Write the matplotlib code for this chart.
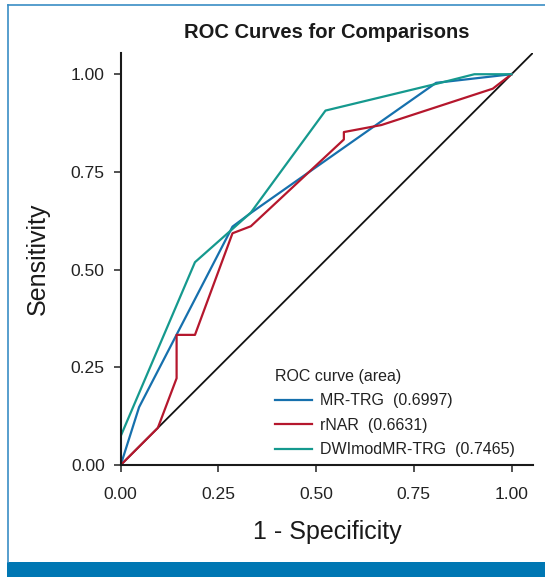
import matplotlib
matplotlib.use("Agg")
import matplotlib.pyplot as plt
from matplotlib.lines import Line2D
from matplotlib.patches import Rectangle

# ROC points (1 - specificity, sensitivity)
mr_trg_fpr = [0.0, 0.047, 0.286, 0.333, 0.807, 1.0]
mr_trg_tpr = [0.0, 0.148, 0.610, 0.645, 0.978, 1.0]

rnar_fpr = [0.0, 0.095, 0.143, 0.143, 0.190, 0.286, 0.333, 0.571, 0.571, 0.667, 0.952, 1.0]
rnar_tpr = [0.0, 0.095, 0.222, 0.333, 0.333, 0.593, 0.611, 0.833, 0.852, 0.870, 0.963, 1.0]

dwi_fpr = [0.0, 0.0, 0.190, 0.286, 0.333, 0.524, 0.810, 0.905, 1.0]
dwi_tpr = [0.0, 0.074, 0.519, 0.604, 0.646, 0.907, 0.976, 1.0, 1.0]

labels = ["MR-TRG  (0.6997)", "rNAR  (0.6631)", "DWImodMR-TRG  (0.7465)"]
ticks = [0.0, 0.25, 0.5, 0.75, 1.0]
tick_labels = ["0.00", "0.25", "0.50", "0.75", "1.00"]

c_blue = "#1670ad"
c_red = "#b5172d"
c_teal = "#15998e"

plt.rcParams["font.family"] = ["Liberation Sans", "DejaVu Sans"]

fig = plt.figure(figsize=(5.45, 5.77), dpi=100)
ax = fig.add_axes([0.2215, 0.1941, 0.7565, 0.7145])

# chance line
ax.plot([0, 1.055], [0, 1.055], color="#111111", lw=1.3)

h1 = ax.plot(mr_trg_fpr, mr_trg_tpr, color=c_blue, lw=1.6, label=labels[0])
h2 = ax.plot(rnar_fpr, rnar_tpr, color=c_red, lw=1.6, label=labels[1])
h3 = ax.plot(dwi_fpr, dwi_tpr, color=c_teal, lw=1.6, label=labels[2])

ax.set_xlim(0, 1.055)
ax.set_ylim(0, 1.055)
ax.set_xticks(ticks)
ax.set_xticklabels(tick_labels)
ax.set_yticks(ticks)
ax.set_yticklabels(tick_labels)
ax.tick_params(axis="both", direction="out", length=5, width=1.1,
               color="#222222", labelsize=12.6, labelcolor="#222222")
ax.tick_params(axis="x", pad=10.5)
ax.tick_params(axis="y", pad=6.5)
for side in ["top", "right"]:
    ax.spines[side].set_visible(False)
for side in ["left", "bottom"]:
    ax.spines[side].set_linewidth(1.5)
    ax.spines[side].set_color("#1a1a1a")

ax.set_xlabel("1 - Specificity", fontsize=18, color="#1a1a1a", labelpad=13.5)
ax.set_ylabel("Sensitivity", fontsize=18, color="#1a1a1a", labelpad=15)
ax.set_title("ROC Curves for Comparisons", fontsize=14.5, fontweight="bold",
             color="#1a1a1a", pad=10.5)

leg = ax.legend(handles=h1 + h2 + h3, title="ROC curve (area)",
                loc="upper left", bbox_to_anchor=(0.374, 0.234),
                frameon=False, borderpad=0, borderaxespad=0,
                handlelength=2.3, handletextpad=0.5, labelspacing=0.6,
                fontsize=11.5, title_fontsize=11.5, alignment="left")
for t in leg.get_texts():
    t.set_color("#222222")
leg.get_title().set_color("#222222")

# page frame: thin blue left/top rule and solid band at the bottom
fig.add_artist(Line2D([7.5 / 545, 7.5 / 545], [15.5 / 577, 1 - 5.3 / 577],
                      color="#3a8dc5", lw=1.2, transform=fig.transFigure))
fig.add_artist(Line2D([7.5 / 545, 1], [1 - 5.3 / 577, 1 - 5.3 / 577],
                      color="#3a8dc5", lw=1.2, transform=fig.transFigure))
fig.add_artist(Rectangle((7 / 545, 0), 1, 15.5 / 577, color="#0077b3",
                         transform=fig.transFigure, lw=0))

plt.savefig("out.png", dpi=100)
